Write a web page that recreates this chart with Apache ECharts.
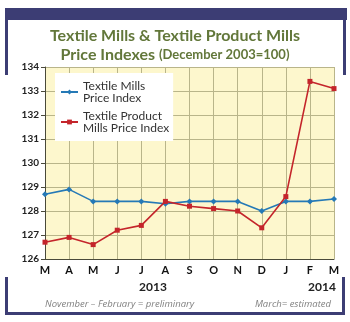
<!DOCTYPE html>
<html>
<head>
<meta charset="utf-8">
<script src="https://cdn.jsdelivr.net/npm/echarts@6/dist/echarts.min.js"></script>
<style>
  html, body { margin: 0; padding: 0; background: #ffffff; }
  #chart { width: 350px; height: 322px; }
</style>
</head>
<body>
<div id="chart"></div>
<script>
// Monthly index values, March 2013 through March 2014
const months = ['M', 'A', 'M', 'J', 'J', 'A', 'S', 'O', 'N', 'D', 'J', 'F', 'M'];
const textileMills = [128.7, 128.9, 128.4, 128.4, 128.4, 128.3, 128.4, 128.4, 128.4, 128.0, 128.4, 128.4, 128.5];
const textileProductMills = [126.7, 126.9, 126.6, 127.2, 127.4, 128.4, 128.2, 128.1, 128.0, 127.3, 128.6, 133.4, 133.1];
const seriesNames = ['Textile Mills\nPrice Index', 'Textile Product\nMills Price Index'];
const yearLabels = ['2013', '2014'];
const notes = ['November \u2013 February = preliminary', 'March= estimated'];

const FRAME = '#3c3d74';
const TITLE_GREEN = '#62773a';
const FONT = 'Lato, "Open Sans", sans-serif';
const NOTE_FONT = '"Open Sans", Lato, sans-serif';

const chart = echarts.init(document.getElementById('chart'), null, { renderer: 'canvas' });

const option = {
  animation: false,
  backgroundColor: '#ffffff',
  title: {
    text: '{a|Textile Mills & Textile Product Mills}\n{a|Price Indexes }{b|(December 2003=100)}',
    left: 'center',
    top: 21,
    textStyle: {
      rich: {
        a: { fontFamily: FONT, fontWeight: 'bold', fontSize: 16, color: TITLE_GREEN, lineHeight: 19 },
        b: { fontFamily: FONT, fontWeight: 'bold', fontSize: 13, color: TITLE_GREEN, lineHeight: 19 }
      }
    }
  },
  grid: { left: 45, right: 16, top: 67, bottom: 63, show: true, backgroundColor: '#fdf7cd', borderWidth: 0 },
  legend: {
    orient: 'vertical',
    left: 55,
    top: 73,
    padding: [7, 4, 7, 5],
    itemGap: 6,
    itemWidth: 17,
    itemHeight: 6,
    backgroundColor: '#ffffff',
    textStyle: { fontFamily: FONT, fontSize: 12, color: '#333333', lineHeight: 12 },
    data: seriesNames
  },
  xAxis: {
    type: 'category',
    data: months,
    boundaryGap: false,
    axisLine: { lineStyle: { color: '#4a4a3a', width: 1 } },
    axisTick: { show: false },
    axisLabel: { fontFamily: FONT, fontWeight: 'bold', fontSize: 11, color: '#111111', margin: 6, interval: 0 },
    splitLine: { show: true, lineStyle: { color: '#b9b58a', width: 1 } }
  },
  yAxis: {
    type: 'value',
    min: 126,
    max: 134,
    interval: 1,
    axisLine: { show: true, lineStyle: { color: '#4a4a3a', width: 1 } },
    axisTick: { show: true, length: 4, lineStyle: { color: '#4a4a3a' } },
    axisLabel: { fontFamily: FONT, fontWeight: 'bold', fontSize: 10, color: '#222222', margin: 6 },
    splitLine: { show: true, lineStyle: { color: '#b9b58a', width: 1 } }
  },
  series: [
    {
      name: seriesNames[0],
      type: 'line',
      data: textileMills,
      symbol: 'diamond',
      symbolSize: 6,
      lineStyle: { color: '#2579b6', width: 1.6 },
      itemStyle: { color: '#2579b6' },
      z: 3
    },
    {
      name: seriesNames[1],
      type: 'line',
      data: textileProductMills,
      symbol: 'rect',
      symbolSize: 5,
      lineStyle: { color: '#c4252b', width: 1.6 },
      itemStyle: { color: '#c4252b' },
      z: 4
    }
  ],
  graphic: [
    // navy frame pieces
    { type: 'rect', shape: { x: 5, y: 8, width: 342, height: 12 }, style: { fill: FRAME }, silent: true },
    { type: 'rect', shape: { x: 5, y: 8, width: 3, height: 67 }, style: { fill: FRAME }, silent: true },
    { type: 'rect', shape: { x: 343, y: 8, width: 3, height: 67 }, style: { fill: FRAME }, silent: true },
    { type: 'rect', shape: { x: 5, y: 277, width: 3, height: 38 }, style: { fill: FRAME }, silent: true },
    { type: 'rect', shape: { x: 342, y: 277, width: 3, height: 38 }, style: { fill: FRAME }, silent: true },
    { type: 'rect', shape: { x: 5, y: 312, width: 340, height: 3 }, style: { fill: FRAME }, silent: true },
    // year labels
    { type: 'text', x: 153, y: 287, style: { text: yearLabels[0], fontFamily: FONT, fontWeight: 'bold', fontSize: 12, fill: '#222222', align: 'center', verticalAlign: 'middle' } },
    { type: 'text', x: 322, y: 287, style: { text: yearLabels[1], fontFamily: FONT, fontWeight: 'bold', fontSize: 12, fill: '#222222', align: 'center', verticalAlign: 'middle' } },
    // footnotes
    { type: 'text', x: 45, y: 304, style: { text: notes[0], fontFamily: NOTE_FONT, fontStyle: 'italic', fontSize: 9.5, fill: '#808080', align: 'left', verticalAlign: 'middle' } },
    { type: 'text', x: 331, y: 304, style: { text: notes[1], fontFamily: NOTE_FONT, fontStyle: 'italic', fontSize: 9.5, fill: '#808080', align: 'right', verticalAlign: 'middle' } }
  ]
};

chart.setOption(option);
</script>
</body>
</html>
